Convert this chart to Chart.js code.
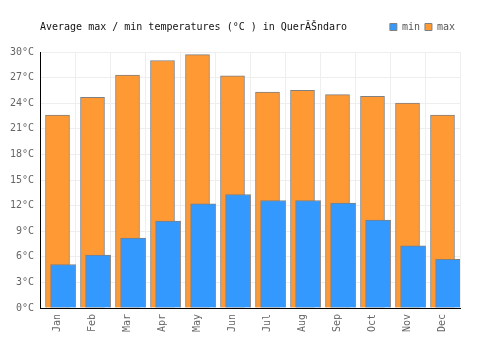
<!DOCTYPE html>
<html>
<head>
<meta charset="utf-8">
<script src="https://cdn.jsdelivr.net/npm/chart.js@4/dist/chart.umd.min.js"></script>
<style>
  body { margin: 0; background: #fff; }
  #wrap { position: relative; width: 500px; height: 350px; }
  #title {
    position: absolute; left: 40px; top: 21px;
    font: 10px/12px "DejaVu Sans Mono", monospace; color: #111;
    white-space: pre;
  }
</style>
</head>
<body>
<div id="wrap">
  <canvas id="temp-chart" width="500" height="350"></canvas>
  <div id="title">Average max / min temperatures (°C ) in QuerĂŠndaro</div>
</div>
<script>
var months = ["Jan", "Feb", "Mar", "Apr", "May", "Jun", "Jul", "Aug", "Sep", "Oct", "Nov", "Dec"];
var minTemps = [5.1, 6.2, 8.2, 10.2, 12.2, 13.3, 12.6, 12.6, 12.3, 10.3, 7.3, 5.7];
var maxTemps = [22.6, 24.7, 27.3, 29.0, 29.7, 27.2, 25.3, 25.5, 25.0, 24.8, 24.0, 22.6];
var yTicks = [0, 3, 6, 9, 12, 15, 18, 21, 24, 27, 30];

// min bars sit a little right of the max bars (fraction of a category)
var minShift = 0.16;

Chart.defaults.font.family = "'DejaVu Sans Mono', monospace";
Chart.defaults.font.size = 10;
Chart.defaults.color = '#666';

// leave a gap between legend row and plot top
var legendGap = {
    id: 'legendGap',
    beforeUpdate: function(chart) {
        var legend = chart.legend;
        if (legend && !legend._gapPatched) {
            var fit = legend.fit;
            legend.fit = function() {
                fit.call(this);
                this.height += 10;
            };
            legend._gapPatched = true;
        }
    }
};

var ctx = document.getElementById('temp-chart').getContext('2d');
new Chart(ctx, {
    type: 'bar',
    data: {
        labels: months,
        datasets: [{
            label: 'min',
            data: minTemps.map(function(v, i) { return {x: i, y: v}; }),
            backgroundColor: '#3399ff',
            borderColor: '#808080',
            borderWidth: 1,
            barThickness: 25,
            grouped: false,
            xAxisID: 'x2'
        }, {
            label: 'max',
            data: maxTemps,
            backgroundColor: '#ff9933',
            borderColor: '#808080',
            borderWidth: 1,
            barThickness: 24,
            grouped: false,
            xAxisID: 'x'
        }]
    },
    options: {
        responsive: false,
        animation: false,
        layout: { padding: { top: 17, right: 40, left: 0, bottom: 0 } },
        plugins: {
            legend: {
                display: true,
                position: 'top',
                align: 'end',
                labels: { boxWidth: 7, boxHeight: 7, padding: 5, color: '#555' }
            },
            tooltip: { enabled: false }
        },
        scales: {
            x: {
                type: 'category',
                grid: { color: '#eeeeee', drawTicks: false, offset: true },
                border: { color: '#000', width: 1 },
                ticks: { minRotation: 90, maxRotation: 90, padding: 6, color: '#666' },
                afterFit: function(scale) { scale.height = 42; }
            },
            x2: {
                type: 'linear',
                display: false,
                offset: false,
                min: -0.5 - minShift,
                max: months.length - 0.5 - minShift
            },
            y: {
                min: yTicks[0],
                max: yTicks[yTicks.length - 1],
                grid: { color: '#eeeeee', drawTicks: false },
                border: { color: '#000', width: 1 },
                ticks: {
                    stepSize: yTicks[1] - yTicks[0],
                    padding: 6,
                    color: '#666',
                    callback: function(v) { return v + '°C'; }
                },
                afterFit: function(scale) { scale.width = 40; }
            }
        }
    },
    plugins: [legendGap]
});
</script>
</body>
</html>
